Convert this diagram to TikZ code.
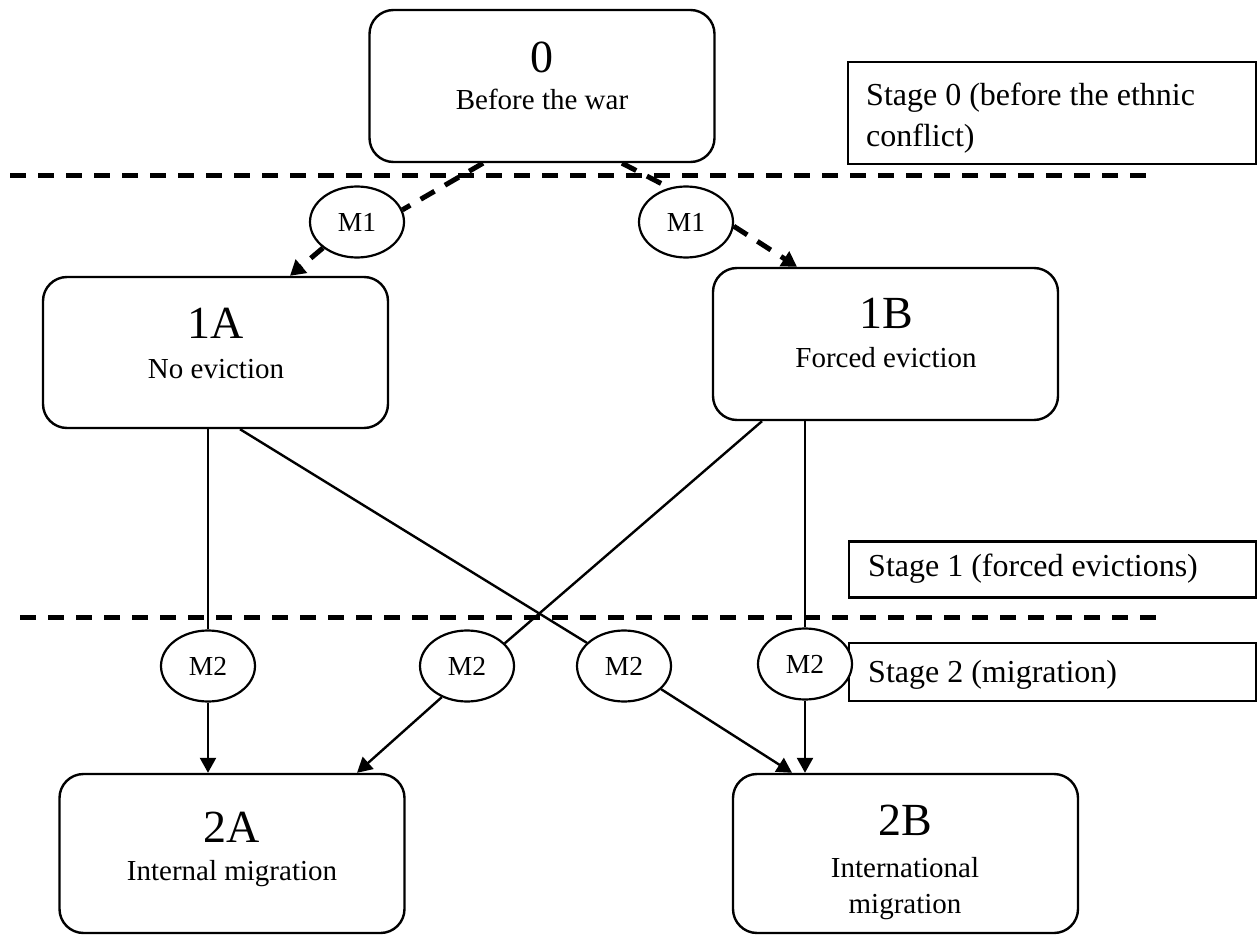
\documentclass[tikz,border=0pt]{standalone}
\usepackage{fontspec}
\setmainfont{Liberation Serif}
\usetikzlibrary{arrows.meta,calc,shapes.geometric}
\tikzset{
  box/.style={draw, line width=2.4pt, rounded corners=24pt, inner sep=0pt, minimum width=345pt},
  stagebox/.style={draw, line width=2.2pt, inner sep=0pt},
  mnode/.style={draw, ellipse, line width=2.2pt, fill=white, minimum width=94pt, minimum height=71pt, inner sep=0pt, font=\fontsize{27.5}{30}\selectfont},
  bigtext/.style={anchor=base, inner sep=0pt, font=\fontsize{46}{50}\selectfont},
  smalltext/.style={anchor=base, inner sep=0pt, font=\fontsize{29}{34}\selectfont},
  stagetext/.style={anchor=base west, inner sep=0pt, font=\fontsize{32}{36}\selectfont},
  divider/.style={line width=5pt, dash pattern=on 16pt off 12pt},
  dasharrow/.style={line width=5pt, dash pattern=on 16pt off 12pt, -{Triangle[length=15pt,width=17pt]}},
  dashline/.style={line width=5pt, dash pattern=on 16pt off 12pt},
  flowline/.style={line width=2.4pt},
  flowarrow/.style={line width=2.4pt, -{Triangle[length=15pt,width=16pt]}},
}
\begin{document}
\begin{tikzpicture}[x=1pt,y=-1pt]
\useasboundingbox (0,0) rectangle (1259,936);

% main boxes
\node[box, minimum height=152pt] (b0) at (542,86) {};
\node[bigtext] (t0) at (542,73) {0};
\node[smalltext] (s0) at (542,110) {Before the war};

\node[box, minimum height=151pt] (b1A) at (215.5,352.5) {};
\node[bigtext] (t1A) at (216,338) {1A};
\node[smalltext] (s1A) at (216,378) {No eviction};

\node[box, minimum height=152pt] (b1B) at (885.5,344) {};
\node[bigtext] (t1B) at (886,328) {1B};
\node[smalltext] (s1B) at (886,367) {Forced eviction};

\node[box, minimum height=159pt] (b2A) at (232,853.5) {};
\node[bigtext] (t2A) at (232,842) {2A};
\node[smalltext] (s2A) at (232,880) {Internal migration};

\node[box, minimum height=159pt] (b2B) at (905.5,853.5) {};
\node[bigtext] (t2B) at (905,835) {2B};
\node[smalltext] (s2B) at (905,877) {International};
\node[smalltext] (s2Bb) at (905,913) {migration};

% stage boxes
\node[stagebox, minimum width=408pt, minimum height=102pt] (st0) at (1052,113) {};
\node[stagetext] (st0a) at (866,106) {Stage 0 (before the ethnic};
\node[stagetext] (st0b) at (866,147) {conflict)};

\node[stagebox, minimum width=407pt, minimum height=56pt] (st1) at (1052.5,569.5) {};
\node[stagetext] (st1a) at (868,576) {Stage 1 (forced evictions)};

\node[stagebox, minimum width=407pt, minimum height=58pt] (st2) at (1052.5,672) {};
\node[stagetext] (st2a) at (868,682) {Stage 2 (migration)};

% dividers
\draw[divider] (10,176) -- (1147,176);
\draw[divider] (20,617) -- (1160,617);

% M nodes
\node[mnode] (m1L) at (357,222) {M1};
\node[mnode] (m1R) at (686,222) {M1};
\node[mnode] (m2a) at (208,666) {M2};
\node[mnode] (m2b) at (467,666) {M2};
\node[mnode] (m2c) at (624,666) {M2};
\node[mnode] (m2d) at (805,664) {M2};

% dashed connectors
\draw[dashline] ([xshift=-59pt]b0.south) -- (m1L.15);
\draw[dasharrow] (m1L.south west) -- ([xshift=74.5pt]b1A.north);
\draw[dashline] ([xshift=80pt]b0.south) -- (m1R.116);
\draw[dasharrow] (m1R.-5) -- ([xshift=-88.5pt]b1B.north);

% solid connectors
\draw[flowline] ([xshift=-7.5pt]b1A.south) -- (m2a.north);
\draw[flowarrow] (m2a.south) -- ([xshift=-24pt]b2A.north);

\draw[flowline] ([xshift=24.5pt]b1A.south) -- (m2c.148);
\draw[flowarrow] (m2c.-32) -- ([xshift=-113.5pt]b2B.north);

\draw[flowline] ([xshift=-123.5pt]b1B.south) -- (m2b.31);
\draw[flowarrow] (m2b.231) -- ([xshift=125pt]b2A.north);

\draw[flowline] ([xshift=-80.5pt]b1B.south) -- (m2d.north);
\draw[flowarrow] (m2d.south) -- ([xshift=-100.5pt]b2B.north);
\end{tikzpicture}
\end{document}
